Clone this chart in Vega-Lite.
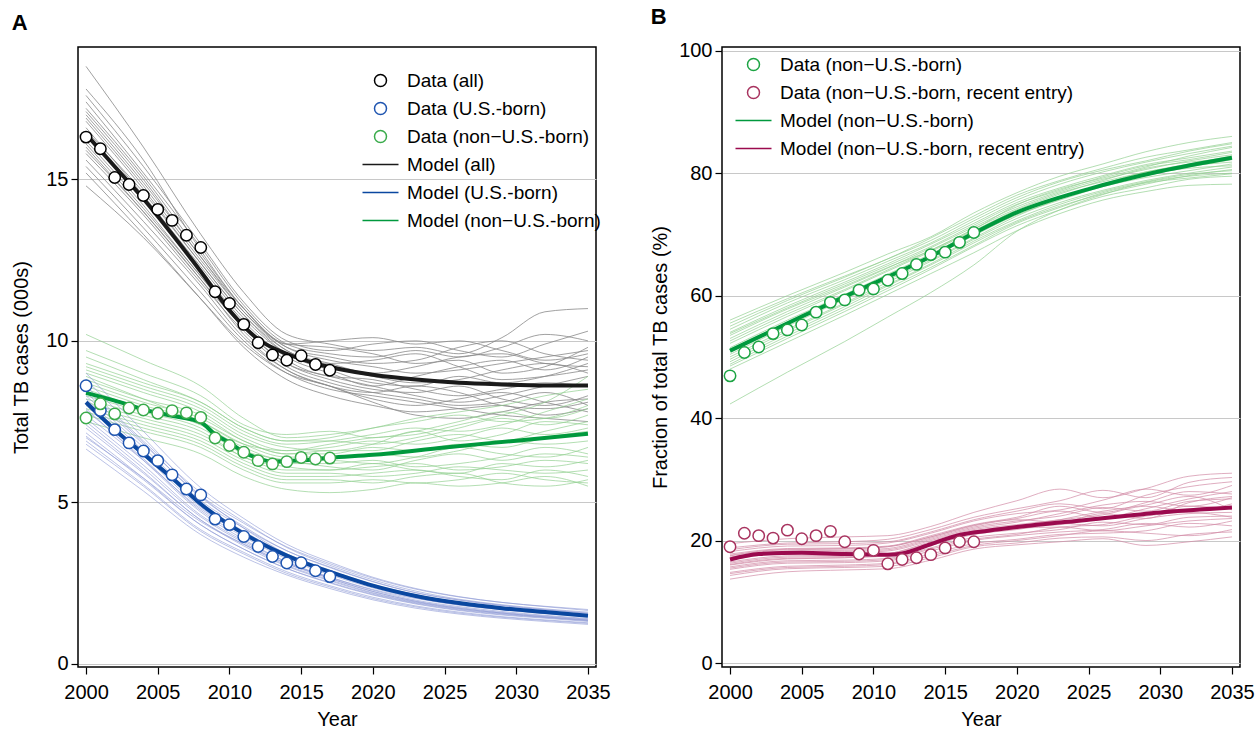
{
"$schema": "https://vega.github.io/schema/vega-lite/v6.json",
"background": "white",
"padding": {"left": 11, "top": 4, "right": 4, "bottom": 0},
"spacing": 38,
"config": {
 "font": "Liberation Sans",
 "view": {"stroke": "#000000", "strokeWidth": 1.5},
 "axis": {"labelFont": "Liberation Sans", "labelFontSize": 20, "labelColor": "#000", "titleFont": "Liberation Sans", "titleFontSize": 20, "titleFontWeight": "normal", "titleColor": "#000", "domain": false, "tickColor": "#000", "tickSize": 7, "tickWidth": 1.2, "gridColor": "#c8c8c8", "gridWidth": 1, "labelPadding": 3},
 "title": {"font": "Liberation Sans", "fontSize": 22, "fontWeight": "bold", "anchor": "start", "frame": "bounds", "color": "#000", "offset": 12},
 "legend": {"labelFont": "Liberation Sans", "labelFontSize": 19, "labelColor": "#000", "labelLimit": 0, "symbolSize": 144, "symbolStrokeWidth": 1.5, "labelOffset": 17, "rowPadding": 8, "padding": 0}
},
"resolve": {"scale": {"stroke": "independent", "shape": "independent"}},
"datasets": {
 "simA": [
  {"g":"all","year":2000,"s1":18.5,"s2":17.6,"s3":17.2,"s4":17.0,"s5":16.8,"s6":16.6,"s7":16.4,"s8":16.2,"s9":16.0,"s10":15.8,"s11":15.6,"s12":15.4,"s13":15.2,"s14":14.8,"s15":17.8,"s16":17.4,"s17":16.9,"s18":16.5,"s19":16.1,"s20":15.9,"s21":17.1},
  {"g":"all","year":2004,"s1":16.0,"s2":15.4,"s3":15.1,"s4":14.9,"s5":14.7,"s6":14.5,"s7":14.4,"s8":14.2,"s9":14.0,"s10":13.9,"s11":13.7,"s12":13.5,"s13":13.3,"s14":13.2,"s15":15.6,"s16":15.2,"s17":14.8,"s18":14.6,"s19":14.1,"s20":14.0,"s21":15.0},
  {"g":"all","year":2008,"s1":13.3,"s2":13.0,"s3":12.7,"s4":12.6,"s5":12.4,"s6":12.3,"s7":12.2,"s8":12.0,"s9":11.9,"s10":11.8,"s11":11.7,"s12":11.5,"s13":11.3,"s14":11.3,"s15":12.8,"s16":12.9,"s17":12.5,"s18":12.4,"s19":12.0,"s20":11.9,"s21":12.6},
  {"g":"all","year":2011,"s1":11.5,"s2":11.2,"s3":11.0,"s4":10.9,"s5":10.8,"s6":10.7,"s7":10.6,"s8":10.5,"s9":10.4,"s10":10.3,"s11":10.1,"s12":10.0,"s13":9.8,"s14":9.9,"s15":11.0,"s16":11.1,"s17":10.9,"s18":10.8,"s19":10.4,"s20":10.2,"s21":11.0},
  {"g":"all","year":2014,"s1":10.2,"s2":10.0,"s3":9.8,"s4":9.8,"s5":9.7,"s6":9.6,"s7":9.5,"s8":9.4,"s9":9.3,"s10":9.2,"s11":9.1,"s12":9.0,"s13":8.8,"s14":9.0,"s15":9.9,"s16":9.9,"s17":9.7,"s18":9.6,"s19":9.3,"s20":9.1,"s21":9.9},
  {"g":"all","year":2017,"s1":9.9,"s2":9.7,"s3":9.5,"s4":9.4,"s5":9.3,"s6":9.2,"s7":9.0,"s8":8.9,"s9":8.8,"s10":8.7,"s11":8.6,"s12":8.5,"s13":8.3,"s14":8.6,"s15":10.0,"s16":9.6,"s17":9.3,"s18":9.1,"s19":8.9,"s20":8.6,"s21":9.8},
  {"g":"all","year":2020,"s1":9.7,"s2":9.9,"s3":9.3,"s4":9.2,"s5":9.4,"s6":8.9,"s7":8.6,"s8":8.8,"s9":8.5,"s10":8.4,"s11":8.2,"s12":8.3,"s13":8.0,"s14":8.1,"s15":10.1,"s16":9.5,"s17":9.0,"s18":8.7,"s19":8.6,"s20":8.4,"s21":9.6},
  {"g":"all","year":2023,"s1":9.8,"s2":10.0,"s3":9.4,"s4":9.0,"s5":9.6,"s6":8.7,"s7":8.9,"s8":8.5,"s9":8.4,"s10":8.2,"s11":8.0,"s12":8.1,"s13":7.8,"s14":7.7,"s15":9.9,"s16":9.7,"s17":9.2,"s18":8.6,"s19":8.3,"s20":8.6,"s21":9.3},
  {"g":"all","year":2026,"s1":9.6,"s2":9.7,"s3":9.8,"s4":9.1,"s5":9.2,"s6":8.8,"s7":9.2,"s8":8.3,"s9":8.6,"s10":8.0,"s11":8.2,"s12":7.9,"s13":7.9,"s14":7.6,"s15":10.0,"s16":9.5,"s17":9.5,"s18":8.9,"s19":8.1,"s20":8.4,"s21":9.4},
  {"g":"all","year":2029,"s1":10.1,"s2":9.5,"s3":10.0,"s4":9.3,"s5":8.8,"s6":9.1,"s7":9.4,"s8":8.5,"s9":8.2,"s10":8.1,"s11":8.4,"s12":7.7,"s13":8.0,"s14":7.8,"s15":9.7,"s16":9.8,"s17":9.6,"s18":8.7,"s19":8.3,"s20":8.0,"s21":9.0},
  {"g":"all","year":2032,"s1":10.9,"s2":9.9,"s3":9.6,"s4":9.5,"s5":8.9,"s6":9.3,"s7":9.1,"s8":8.7,"s9":8.0,"s10":8.4,"s11":8.1,"s12":7.6,"s13":7.7,"s14":8.1,"s15":9.4,"s16":10.2,"s17":9.3,"s18":8.9,"s19":8.6,"s20":7.9,"s21":9.2},
  {"g":"all","year":2035,"s1":11.0,"s2":10.3,"s3":9.4,"s4":9.7,"s5":9.1,"s6":9.0,"s7":9.5,"s8":8.6,"s9":8.3,"s10":8.0,"s11":7.8,"s12":7.5,"s13":7.9,"s14":8.2,"s15":9.6,"s16":10.0,"s17":9.2,"s18":9.3,"s19":8.9,"s20":8.1,"s21":9.8},
  {"g":"nus","year":2000,"s1":10.2,"s2":9.7,"s3":9.2,"s4":9.0,"s5":8.8,"s6":8.6,"s7":8.5,"s8":8.3,"s9":8.2,"s10":8.0,"s11":7.9,"s12":7.7,"s13":7.5,"s14":9.5,"s15":8.9,"s16":9.3,"s17":8.7,"s18":8.4,"s19":8.1,"s20":7.8,"s21":9.1},
  {"g":"nus","year":2004,"s1":9.4,"s2":9.0,"s3":8.6,"s4":8.4,"s5":8.2,"s6":8.0,"s7":7.9,"s8":7.8,"s9":7.7,"s10":7.5,"s11":7.4,"s12":7.2,"s13":7.0,"s14":8.8,"s15":8.2,"s16":8.7,"s17":8.1,"s18":7.9,"s19":7.6,"s20":7.3,"s21":8.5},
  {"g":"nus","year":2008,"s1":8.6,"s2":8.3,"s3":8.0,"s4":7.8,"s5":7.7,"s6":7.5,"s7":7.4,"s8":7.3,"s9":7.2,"s10":7.0,"s11":6.9,"s12":6.7,"s13":6.5,"s14":8.1,"s15":7.5,"s16":8.1,"s17":7.6,"s18":7.4,"s19":7.1,"s20":6.8,"s21":7.9},
  {"g":"nus","year":2011,"s1":7.6,"s2":7.4,"s3":7.2,"s4":7.0,"s5":6.9,"s6":6.8,"s7":6.7,"s8":6.5,"s9":6.4,"s10":6.3,"s11":6.2,"s12":6.0,"s13":5.8,"s14":7.3,"s15":6.8,"s16":7.3,"s17":6.9,"s18":6.6,"s19":6.4,"s20":6.1,"s21":7.1},
  {"g":"nus","year":2014,"s1":7.0,"s2":7.1,"s3":6.8,"s4":6.6,"s5":6.5,"s6":6.4,"s7":6.3,"s8":6.2,"s9":6.1,"s10":5.9,"s11":5.8,"s12":5.6,"s13":5.4,"s14":6.9,"s15":6.6,"s16":6.9,"s17":6.5,"s18":6.3,"s19":6.0,"s20":5.7,"s21":6.7},
  {"g":"nus","year":2017,"s1":7.1,"s2":7.2,"s3":6.9,"s4":6.7,"s5":6.6,"s6":6.4,"s7":6.3,"s8":6.2,"s9":6.0,"s10":5.9,"s11":5.8,"s12":5.6,"s13":5.3,"s14":7.0,"s15":6.8,"s16":6.9,"s17":6.5,"s18":6.1,"s19":6.0,"s20":5.7,"s21":6.6},
  {"g":"nus","year":2020,"s1":7.3,"s2":7.0,"s3":7.1,"s4":6.9,"s5":6.6,"s6":6.5,"s7":6.2,"s8":6.3,"s9":6.1,"s10":5.8,"s11":5.9,"s12":5.7,"s13":5.4,"s14":7.3,"s15":7.0,"s16":6.8,"s17":6.7,"s18":6.0,"s19":6.2,"s20":5.6,"s21":6.8},
  {"g":"nus","year":2023,"s1":7.6,"s2":7.2,"s3":7.3,"s4":6.8,"s5":6.9,"s6":6.4,"s7":6.4,"s8":6.1,"s9":6.2,"s10":5.9,"s11":6.0,"s12":5.6,"s13":5.6,"s14":7.5,"s15":7.1,"s16":7.0,"s17":6.6,"s18":6.3,"s19":6.0,"s20":5.8,"s21":7.2},
  {"g":"nus","year":2026,"s1":7.8,"s2":7.5,"s3":7.2,"s4":7.0,"s5":7.1,"s6":6.6,"s7":6.7,"s8":6.2,"s9":6.0,"s10":6.1,"s11":5.8,"s12":5.7,"s13":5.5,"s14":7.7,"s15":7.4,"s16":7.3,"s17":6.8,"s18":6.5,"s19":5.9,"s20":5.9,"s21":6.9},
  {"g":"nus","year":2029,"s1":8.0,"s2":7.8,"s3":7.4,"s4":7.3,"s5":6.9,"s6":6.9,"s7":6.5,"s8":6.4,"s9":6.1,"s10":6.0,"s11":5.7,"s12":5.9,"s13":5.6,"s14":7.5,"s15":7.7,"s16":7.6,"s17":6.7,"s18":6.3,"s19":6.2,"s20":5.6,"s21":7.1},
  {"g":"nus","year":2032,"s1":8.3,"s2":7.6,"s3":7.8,"s4":7.1,"s5":7.2,"s6":6.8,"s7":6.4,"s8":6.7,"s9":6.3,"s10":5.9,"s11":6.0,"s12":5.7,"s13":5.8,"s14":7.6,"s15":8.1,"s16":7.4,"s17":7.0,"s18":6.5,"s19":6.1,"s20":5.5,"s21":7.5},
  {"g":"nus","year":2035,"s1":8.5,"s2":7.9,"s3":8.2,"s4":7.3,"s5":7.5,"s6":6.9,"s7":6.7,"s8":6.5,"s9":6.2,"s10":6.0,"s11":5.8,"s12":5.6,"s13":5.5,"s14":8.0,"s15":8.9,"s16":7.7,"s17":7.2,"s18":6.4,"s19":6.3,"s20":5.7,"s21":7.4},
  {"g":"us","year":2000,"s1":9.0,"s2":8.5,"s3":8.2,"s4":7.85,"s5":7.6,"s6":7.4,"s7":7.15,"s8":6.9,"s9":6.65,"s10":8.8,"s11":7.0,"s12":7.9,"s13":8.4,"s14":7.3,"s15":7.7,"s16":8.6,"s17":8.0,"s18":7.5,"s19":7.05,"s20":6.8,"s21":8.3},
  {"g":"us","year":2004,"s1":7.2,"s2":6.85,"s3":6.6,"s4":6.35,"s5":6.15,"s6":5.95,"s7":5.75,"s8":5.55,"s9":5.35,"s10":7.0,"s11":5.75,"s12":6.3,"s13":6.8,"s14":5.9,"s15":6.3,"s16":6.9,"s17":6.45,"s18":6.05,"s19":5.7,"s20":5.5,"s21":6.7},
  {"g":"us","year":2008,"s1":5.45,"s2":5.15,"s3":4.95,"s4":4.75,"s5":4.6,"s6":4.45,"s7":4.3,"s8":4.15,"s9":4.0,"s10":5.2,"s11":4.4,"s12":4.7,"s13":5.2,"s14":4.45,"s15":4.8,"s16":5.3,"s17":4.85,"s18":4.55,"s19":4.3,"s20":4.1,"s21":5.05},
  {"g":"us","year":2011,"s1":4.5,"s2":4.25,"s3":4.1,"s4":3.93,"s5":3.8,"s6":3.7,"s7":3.55,"s8":3.45,"s9":3.3,"s10":4.2,"s11":3.7,"s12":3.85,"s13":4.35,"s14":3.65,"s15":4.0,"s16":4.4,"s17":4.0,"s18":3.75,"s19":3.55,"s20":3.4,"s21":4.2},
  {"g":"us","year":2014,"s1":3.7,"s2":3.5,"s3":3.4,"s4":3.25,"s5":3.15,"s6":3.05,"s7":2.95,"s8":2.85,"s9":2.75,"s10":3.4,"s11":3.1,"s12":3.15,"s13":3.62,"s14":3.02,"s15":3.33,"s16":3.6,"s17":3.3,"s18":3.1,"s19":2.95,"s20":2.8,"s21":3.5},
  {"g":"us","year":2017,"s1":3.15,"s2":3.0,"s3":2.9,"s4":2.76,"s5":2.68,"s6":2.6,"s7":2.5,"s8":2.42,"s9":2.33,"s10":2.85,"s11":2.68,"s12":2.65,"s13":3.1,"s14":2.57,"s15":2.85,"s16":3.05,"s17":2.8,"s18":2.64,"s19":2.52,"s20":2.38,"s21":2.98},
  {"g":"us","year":2020,"s1":2.68,"s2":2.55,"s3":2.46,"s4":2.35,"s5":2.28,"s6":2.2,"s7":2.13,"s8":2.06,"s9":1.98,"s10":2.4,"s11":2.3,"s12":2.24,"s13":2.65,"s14":2.18,"s15":2.43,"s16":2.6,"s17":2.39,"s18":2.24,"s19":2.15,"s20":2.02,"s21":2.54},
  {"g":"us","year":2023,"s1":2.33,"s2":2.2,"s3":2.14,"s4":2.04,"s5":1.97,"s6":1.91,"s7":1.85,"s8":1.79,"s9":1.72,"s10":2.07,"s11":2.02,"s12":1.93,"s13":2.31,"s14":1.89,"s15":2.12,"s16":2.25,"s17":2.07,"s18":1.94,"s19":1.87,"s20":1.76,"s21":2.2},
  {"g":"us","year":2026,"s1":2.08,"s2":1.98,"s3":1.91,"s4":1.82,"s5":1.77,"s6":1.71,"s7":1.65,"s8":1.6,"s9":1.54,"s10":1.85,"s11":1.82,"s12":1.72,"s13":2.07,"s14":1.69,"s15":1.9,"s16":2.0,"s17":1.85,"s18":1.74,"s19":1.67,"s20":1.57,"s21":1.97},
  {"g":"us","year":2029,"s1":1.9,"s2":1.81,"s3":1.75,"s4":1.67,"s5":1.62,"s6":1.57,"s7":1.51,"s8":1.46,"s9":1.41,"s10":1.7,"s11":1.68,"s12":1.57,"s13":1.9,"s14":1.55,"s15":1.74,"s16":1.83,"s17":1.69,"s18":1.59,"s19":1.53,"s20":1.44,"s21":1.8},
  {"g":"us","year":2032,"s1":1.77,"s2":1.68,"s3":1.63,"s4":1.55,"s5":1.5,"s6":1.46,"s7":1.41,"s8":1.36,"s9":1.31,"s10":1.58,"s11":1.57,"s12":1.45,"s13":1.78,"s14":1.44,"s15":1.62,"s16":1.7,"s17":1.57,"s18":1.48,"s19":1.43,"s20":1.34,"s21":1.67},
  {"g":"us","year":2035,"s1":1.65,"s2":1.57,"s3":1.52,"s4":1.45,"s5":1.4,"s6":1.36,"s7":1.31,"s8":1.27,"s9":1.22,"s10":1.48,"s11":1.48,"s12":1.35,"s13":1.68,"s14":1.34,"s15":1.52,"s16":1.6,"s17":1.47,"s18":1.38,"s19":1.33,"s20":1.25,"s21":1.56}
 ],
 "simB": [
  {"g":"fn","year":2000,"s1":42.3,"s2":56.0,"s3":55.0,"s4":54.0,"s5":53.0,"s6":52.2,"s7":51.5,"s8":50.8,"s9":50.0,"s10":49.2,"s11":48.5,"s12":48.0,"s13":55.5,"s14":53.5,"s15":50.4,"s16":54.5,"s17":52.6,"s18":51.2,"s19":49.6,"s20":48.8,"s21":53.8},
  {"g":"fn","year":2004,"s1":47.5,"s2":60.0,"s3":59.2,"s4":58.3,"s5":57.4,"s6":56.6,"s7":56.0,"s8":55.3,"s9":54.5,"s10":53.8,"s11":53.0,"s12":52.4,"s13":59.5,"s14":57.8,"s15":55.0,"s16":58.8,"s17":57.0,"s18":55.6,"s19":54.2,"s20":53.4,"s21":58.0},
  {"g":"fn","year":2008,"s1":52.5,"s2":63.8,"s3":63.0,"s4":62.2,"s5":61.4,"s6":60.8,"s7":60.2,"s8":59.6,"s9":58.8,"s10":58.2,"s11":57.4,"s12":56.8,"s13":63.2,"s14":61.6,"s15":59.4,"s16":62.6,"s17":61.0,"s18":59.9,"s19":58.6,"s20":57.8,"s21":61.9},
  {"g":"fn","year":2011,"s1":56.5,"s2":66.8,"s3":66.0,"s4":65.2,"s5":64.5,"s6":64.0,"s7":63.5,"s8":62.8,"s9":62.2,"s10":61.6,"s11":60.8,"s12":60.2,"s13":66.0,"s14":64.6,"s15":62.6,"s16":65.6,"s17":64.2,"s18":63.0,"s19":61.8,"s20":61.2,"s21":64.9},
  {"g":"fn","year":2014,"s1":60.5,"s2":69.6,"s3":69.0,"s4":68.4,"s5":67.8,"s6":67.2,"s7":66.8,"s8":66.2,"s9":65.6,"s10":65.0,"s11":64.3,"s12":63.6,"s13":69.4,"s14":67.4,"s15":65.8,"s16":68.6,"s17":67.4,"s18":66.4,"s19":65.2,"s20":64.6,"s21":68.0},
  {"g":"fn","year":2017,"s1":65.0,"s2":73.5,"s3":72.6,"s4":71.8,"s5":71.2,"s6":70.6,"s7":70.4,"s8":69.8,"s9":69.2,"s10":68.6,"s11":68.0,"s12":67.0,"s13":73.0,"s14":70.8,"s15":69.4,"s16":72.2,"s17":70.9,"s18":70.0,"s19":68.9,"s20":68.2,"s21":71.5},
  {"g":"fn","year":2020,"s1":70.5,"s2":76.8,"s3":76.0,"s4":75.2,"s5":74.5,"s6":74.0,"s7":73.6,"s8":73.2,"s9":72.6,"s10":72.0,"s11":71.4,"s12":70.6,"s13":76.4,"s14":74.8,"s15":73.0,"s16":75.6,"s17":74.2,"s18":73.4,"s19":72.2,"s20":71.8,"s21":74.9},
  {"g":"fn","year":2023,"s1":74.0,"s2":79.5,"s3":78.6,"s4":77.6,"s5":77.0,"s6":76.6,"s7":76.0,"s8":75.6,"s9":75.2,"s10":74.6,"s11":74.0,"s12":73.4,"s13":78.8,"s14":77.4,"s15":75.8,"s16":78.2,"s17":76.8,"s18":75.9,"s19":74.9,"s20":74.4,"s21":77.2},
  {"g":"fn","year":2026,"s1":76.5,"s2":81.5,"s3":80.5,"s4":79.6,"s5":79.0,"s6":78.8,"s7":78.0,"s8":77.8,"s9":77.2,"s10":76.6,"s11":76.2,"s12":75.6,"s13":80.8,"s14":79.2,"s15":78.2,"s16":80.2,"s17":78.6,"s18":77.9,"s19":77.0,"s20":76.8,"s21":79.4},
  {"g":"fn","year":2029,"s1":78.5,"s2":83.5,"s3":82.0,"s4":81.4,"s5":80.6,"s6":80.8,"s7":79.6,"s8":79.3,"s9":78.8,"s10":78.2,"s11":77.6,"s12":77.0,"s13":82.6,"s14":81.0,"s15":80.2,"s16":81.8,"s17":80.2,"s18":79.8,"s19":78.6,"s20":78.4,"s21":81.2},
  {"g":"fn","year":2032,"s1":79.5,"s2":85.0,"s3":83.6,"s4":82.5,"s5":82.0,"s6":81.8,"s7":81.0,"s8":80.4,"s9":80.0,"s10":79.6,"s11":79.0,"s12":78.0,"s13":83.8,"s14":82.8,"s15":81.2,"s16":83.2,"s17":81.5,"s18":80.8,"s19":79.8,"s20":79.2,"s21":82.2},
  {"g":"fn","year":2035,"s1":80.0,"s2":86.0,"s3":84.8,"s4":83.6,"s5":83.0,"s6":82.4,"s7":82.2,"s8":81.5,"s9":81.0,"s10":80.6,"s11":79.5,"s12":78.2,"s13":85.0,"s14":84.2,"s15":81.8,"s16":84.4,"s17":82.8,"s18":81.2,"s19":80.4,"s20":79.9,"s21":83.4},
  {"g":"re","year":2000,"s1":19.5,"s2":18.8,"s3":18.2,"s4":17.8,"s5":17.3,"s6":16.9,"s7":16.5,"s8":16.1,"s9":15.7,"s10":15.3,"s11":14.8,"s12":14.3,"s13":13.7,"s14":17.5,"s15":16.0,"s16":18.5,"s17":17.0,"s18":16.3,"s19":15.5,"s20":14.6,"s21":17.6},
  {"g":"re","year":2004,"s1":20.3,"s2":19.6,"s3":19.1,"s4":18.7,"s5":18.3,"s6":17.9,"s7":17.5,"s8":17.1,"s9":16.7,"s10":16.3,"s11":15.8,"s12":15.4,"s13":14.9,"s14":18.5,"s15":17.0,"s16":19.4,"s17":18.0,"s18":17.3,"s19":16.5,"s20":15.6,"s21":18.6},
  {"g":"re","year":2008,"s1":20.6,"s2":19.8,"s3":19.2,"s4":18.8,"s5":18.4,"s6":18.0,"s7":17.6,"s8":17.2,"s9":16.8,"s10":16.4,"s11":16.0,"s12":15.6,"s13":15.2,"s14":18.6,"s15":17.2,"s16":19.5,"s17":18.2,"s18":17.4,"s19":16.6,"s20":15.8,"s21":18.7},
  {"g":"re","year":2011,"s1":20.8,"s2":20.2,"s3":19.6,"s4":19.1,"s5":18.7,"s6":18.3,"s7":17.9,"s8":17.5,"s9":17.1,"s10":16.7,"s11":16.3,"s12":15.8,"s13":15.4,"s14":19.0,"s15":17.8,"s16":19.8,"s17":18.5,"s18":17.7,"s19":16.9,"s20":16.1,"s21":19.0},
  {"g":"re","year":2014,"s1":22.3,"s2":21.8,"s3":21.2,"s4":20.8,"s5":20.4,"s6":20.0,"s7":19.6,"s8":19.2,"s9":18.8,"s10":18.3,"s11":17.8,"s12":17.2,"s13":16.8,"s14":20.6,"s15":19.8,"s16":21.4,"s17":20.2,"s18":19.4,"s19":18.6,"s20":17.5,"s21":20.6},
  {"g":"re","year":2017,"s1":24.6,"s2":23.8,"s3":23.2,"s4":22.6,"s5":22.2,"s6":21.8,"s7":21.4,"s8":21.0,"s9":20.5,"s10":20.0,"s11":19.5,"s12":19.0,"s13":18.6,"s14":22.4,"s15":21.6,"s16":23.4,"s17":22.0,"s18":21.2,"s19":20.2,"s20":19.2,"s21":22.5},
  {"g":"re","year":2020,"s1":26.5,"s2":25.2,"s3":24.4,"s4":23.8,"s5":23.2,"s6":22.6,"s7":22.2,"s8":21.8,"s9":21.2,"s10":20.8,"s11":20.2,"s12":19.6,"s13":19.3,"s14":23.6,"s15":22.4,"s16":24.8,"s17":23.0,"s18":22.0,"s19":21.0,"s20":20.0,"s21":23.4},
  {"g":"re","year":2023,"s1":28.4,"s2":26.5,"s3":25.0,"s4":25.6,"s5":24.0,"s6":23.4,"s7":22.6,"s8":22.8,"s9":21.8,"s10":21.4,"s11":21.0,"s12":20.4,"s13":19.8,"s14":24.8,"s15":23.4,"s16":26.0,"s17":24.4,"s18":22.2,"s19":22.2,"s20":20.8,"s21":23.0},
  {"g":"re","year":2026,"s1":27.0,"s2":28.2,"s3":26.6,"s4":24.6,"s5":25.4,"s6":24.2,"s7":23.6,"s8":22.4,"s9":23.0,"s10":21.8,"s11":21.2,"s12":20.6,"s13":20.3,"s14":23.8,"s15":24.8,"s16":25.2,"s17":25.8,"s18":21.6,"s19":22.6,"s20":21.6,"s21":24.4},
  {"g":"re","year":2029,"s1":28.5,"s2":27.0,"s3":28.4,"s4":26.2,"s5":24.8,"s6":25.6,"s7":24.2,"s8":23.6,"s9":22.6,"s10":22.8,"s11":21.6,"s12":20.0,"s13":19.2,"s14":25.2,"s15":25.8,"s16":27.4,"s17":26.4,"s18":22.4,"s19":24.0,"s20":21.2,"s21":23.6},
  {"g":"re","year":2032,"s1":30.5,"s2":29.5,"s3":27.4,"s4":28.0,"s5":26.4,"s6":24.8,"s7":25.6,"s8":24.4,"s9":23.8,"s10":22.2,"s11":22.8,"s12":21.0,"s13":19.8,"s14":26.8,"s15":27.2,"s16":28.8,"s17":25.6,"s18":23.2,"s19":24.6,"s20":20.8,"s21":26.2},
  {"g":"re","year":2035,"s1":31.0,"s2":30.3,"s3":29.0,"s4":27.6,"s5":26.8,"s6":26.0,"s7":25.2,"s8":24.6,"s9":24.0,"s10":23.2,"s11":22.4,"s12":21.4,"s13":20.6,"s14":28.0,"s15":25.0,"s16":29.6,"s17":27.0,"s18":23.6,"s19":23.8,"s20":21.8,"s21":27.2}
 ],
 "medA": [
  {"s":"Model (all)","year":2000,"v":16.4},{"s":"Model (all)","year":2002,"v":15.4},{"s":"Model (all)","year":2004,"v":14.4},{"s":"Model (all)","year":2006,"v":13.3},{"s":"Model (all)","year":2008,"v":12.15},{"s":"Model (all)","year":2010,"v":10.95},{"s":"Model (all)","year":2012,"v":10.05},{"s":"Model (all)","year":2014,"v":9.6},{"s":"Model (all)","year":2016,"v":9.3},{"s":"Model (all)","year":2018,"v":9.1},{"s":"Model (all)","year":2020,"v":8.95},{"s":"Model (all)","year":2023,"v":8.8},{"s":"Model (all)","year":2026,"v":8.7},{"s":"Model (all)","year":2029,"v":8.65},{"s":"Model (all)","year":2032,"v":8.62},{"s":"Model (all)","year":2035,"v":8.62},
  {"s":"Model (U.S.-born)","year":2000,"v":8.1},{"s":"Model (U.S.-born)","year":2002,"v":7.25},{"s":"Model (U.S.-born)","year":2004,"v":6.5},{"s":"Model (U.S.-born)","year":2006,"v":5.75},{"s":"Model (U.S.-born)","year":2008,"v":4.95},{"s":"Model (U.S.-born)","year":2010,"v":4.3},{"s":"Model (U.S.-born)","year":2012,"v":3.78},{"s":"Model (U.S.-born)","year":2014,"v":3.35},{"s":"Model (U.S.-born)","year":2016,"v":3.0},{"s":"Model (U.S.-born)","year":2018,"v":2.7},{"s":"Model (U.S.-born)","year":2020,"v":2.42},{"s":"Model (U.S.-born)","year":2023,"v":2.1},{"s":"Model (U.S.-born)","year":2026,"v":1.88},{"s":"Model (U.S.-born)","year":2029,"v":1.72},{"s":"Model (U.S.-born)","year":2032,"v":1.6},{"s":"Model (U.S.-born)","year":2035,"v":1.49},
  {"s":"Model (non−U.S.-born)","year":2000,"v":8.39},{"s":"Model (non−U.S.-born)","year":2002,"v":8.15},{"s":"Model (non−U.S.-born)","year":2004,"v":7.88},{"s":"Model (non−U.S.-born)","year":2006,"v":7.68},{"s":"Model (non−U.S.-born)","year":2008,"v":7.48},{"s":"Model (non−U.S.-born)","year":2009,"v":7.1},{"s":"Model (non−U.S.-born)","year":2010,"v":6.85},{"s":"Model (non−U.S.-born)","year":2011,"v":6.55},{"s":"Model (non−U.S.-born)","year":2012,"v":6.36},{"s":"Model (non−U.S.-born)","year":2013,"v":6.26},{"s":"Model (non−U.S.-born)","year":2015,"v":6.3},{"s":"Model (non−U.S.-born)","year":2017,"v":6.38},{"s":"Model (non−U.S.-born)","year":2020,"v":6.47},{"s":"Model (non−U.S.-born)","year":2025,"v":6.7},{"s":"Model (non−U.S.-born)","year":2030,"v":6.91},{"s":"Model (non−U.S.-born)","year":2035,"v":7.12}
 ],
 "obsA": [
  {"s":"Data (all)","year":2000,"v":16.31},{"s":"Data (all)","year":2001,"v":15.95},{"s":"Data (all)","year":2002,"v":15.06},{"s":"Data (all)","year":2003,"v":14.84},{"s":"Data (all)","year":2004,"v":14.5},{"s":"Data (all)","year":2005,"v":14.07},{"s":"Data (all)","year":2006,"v":13.73},{"s":"Data (all)","year":2007,"v":13.27},{"s":"Data (all)","year":2008,"v":12.89},{"s":"Data (all)","year":2009,"v":11.52},{"s":"Data (all)","year":2010,"v":11.16},{"s":"Data (all)","year":2011,"v":10.51},{"s":"Data (all)","year":2012,"v":9.94},{"s":"Data (all)","year":2013,"v":9.56},{"s":"Data (all)","year":2014,"v":9.4},{"s":"Data (all)","year":2015,"v":9.54},{"s":"Data (all)","year":2016,"v":9.27},{"s":"Data (all)","year":2017,"v":9.09},
  {"s":"Data (U.S.-born)","year":2000,"v":8.61},{"s":"Data (U.S.-born)","year":2001,"v":7.84},{"s":"Data (U.S.-born)","year":2002,"v":7.25},{"s":"Data (U.S.-born)","year":2003,"v":6.84},{"s":"Data (U.S.-born)","year":2004,"v":6.59},{"s":"Data (U.S.-born)","year":2005,"v":6.29},{"s":"Data (U.S.-born)","year":2006,"v":5.85},{"s":"Data (U.S.-born)","year":2007,"v":5.41},{"s":"Data (U.S.-born)","year":2008,"v":5.23},{"s":"Data (U.S.-born)","year":2009,"v":4.48},{"s":"Data (U.S.-born)","year":2010,"v":4.31},{"s":"Data (U.S.-born)","year":2011,"v":3.94},{"s":"Data (U.S.-born)","year":2012,"v":3.63},{"s":"Data (U.S.-born)","year":2013,"v":3.32},{"s":"Data (U.S.-born)","year":2014,"v":3.12},{"s":"Data (U.S.-born)","year":2015,"v":3.13},{"s":"Data (U.S.-born)","year":2016,"v":2.88},{"s":"Data (U.S.-born)","year":2017,"v":2.7},
  {"s":"Data (non−U.S.-born)","year":2000,"v":7.61},{"s":"Data (non−U.S.-born)","year":2001,"v":8.05},{"s":"Data (non−U.S.-born)","year":2002,"v":7.74},{"s":"Data (non−U.S.-born)","year":2003,"v":7.92},{"s":"Data (non−U.S.-born)","year":2004,"v":7.86},{"s":"Data (non−U.S.-born)","year":2005,"v":7.76},{"s":"Data (non−U.S.-born)","year":2006,"v":7.84},{"s":"Data (non−U.S.-born)","year":2007,"v":7.77},{"s":"Data (non−U.S.-born)","year":2008,"v":7.63},{"s":"Data (non−U.S.-born)","year":2009,"v":6.99},{"s":"Data (non−U.S.-born)","year":2010,"v":6.76},{"s":"Data (non−U.S.-born)","year":2011,"v":6.55},{"s":"Data (non−U.S.-born)","year":2012,"v":6.29},{"s":"Data (non−U.S.-born)","year":2013,"v":6.19},{"s":"Data (non−U.S.-born)","year":2014,"v":6.26},{"s":"Data (non−U.S.-born)","year":2015,"v":6.39},{"s":"Data (non−U.S.-born)","year":2016,"v":6.34},{"s":"Data (non−U.S.-born)","year":2017,"v":6.37}
 ],
 "medB": [
  {"s":"Model (non−U.S.-born)","year":2000,"v":51.0},{"s":"Model (non−U.S.-born)","year":2005,"v":56.6},{"s":"Model (non−U.S.-born)","year":2010,"v":62.0},{"s":"Model (non−U.S.-born)","year":2014,"v":66.4},{"s":"Model (non−U.S.-born)","year":2017,"v":70.2},{"s":"Model (non−U.S.-born)","year":2020,"v":73.6},{"s":"Model (non−U.S.-born)","year":2025,"v":77.4},{"s":"Model (non−U.S.-born)","year":2030,"v":80.3},{"s":"Model (non−U.S.-born)","year":2035,"v":82.5},
  {"s":"Model (non−U.S.-born, recent entry)","year":2000,"v":16.9},{"s":"Model (non−U.S.-born, recent entry)","year":2002,"v":17.8},{"s":"Model (non−U.S.-born, recent entry)","year":2005,"v":18.0},{"s":"Model (non−U.S.-born, recent entry)","year":2008,"v":17.8},{"s":"Model (non−U.S.-born, recent entry)","year":2011,"v":17.7},{"s":"Model (non−U.S.-born, recent entry)","year":2012,"v":17.9},{"s":"Model (non−U.S.-born, recent entry)","year":2014,"v":19.4},{"s":"Model (non−U.S.-born, recent entry)","year":2016,"v":20.9},{"s":"Model (non−U.S.-born, recent entry)","year":2018,"v":21.6},{"s":"Model (non−U.S.-born, recent entry)","year":2020,"v":22.2},{"s":"Model (non−U.S.-born, recent entry)","year":2025,"v":23.4},{"s":"Model (non−U.S.-born, recent entry)","year":2030,"v":24.6},{"s":"Model (non−U.S.-born, recent entry)","year":2035,"v":25.4}
 ],
 "obsB": [
  {"s":"Data (non−U.S.-born)","year":2000,"v":46.9},{"s":"Data (non−U.S.-born)","year":2001,"v":50.7},{"s":"Data (non−U.S.-born)","year":2002,"v":51.6},{"s":"Data (non−U.S.-born)","year":2003,"v":53.8},{"s":"Data (non−U.S.-born)","year":2004,"v":54.4},{"s":"Data (non−U.S.-born)","year":2005,"v":55.2},{"s":"Data (non−U.S.-born)","year":2006,"v":57.3},{"s":"Data (non−U.S.-born)","year":2007,"v":58.9},{"s":"Data (non−U.S.-born)","year":2008,"v":59.3},{"s":"Data (non−U.S.-born)","year":2009,"v":60.9},{"s":"Data (non−U.S.-born)","year":2010,"v":61.1},{"s":"Data (non−U.S.-born)","year":2011,"v":62.5},{"s":"Data (non−U.S.-born)","year":2012,"v":63.6},{"s":"Data (non−U.S.-born)","year":2013,"v":65.1},{"s":"Data (non−U.S.-born)","year":2014,"v":66.7},{"s":"Data (non−U.S.-born)","year":2015,"v":67.1},{"s":"Data (non−U.S.-born)","year":2016,"v":68.7},{"s":"Data (non−U.S.-born)","year":2017,"v":70.3},
  {"s":"Data (non−U.S.-born, recent entry)","year":2000,"v":19.0},{"s":"Data (non−U.S.-born, recent entry)","year":2001,"v":21.2},{"s":"Data (non−U.S.-born, recent entry)","year":2002,"v":20.8},{"s":"Data (non−U.S.-born, recent entry)","year":2003,"v":20.4},{"s":"Data (non−U.S.-born, recent entry)","year":2004,"v":21.7},{"s":"Data (non−U.S.-born, recent entry)","year":2005,"v":20.3},{"s":"Data (non−U.S.-born, recent entry)","year":2006,"v":20.8},{"s":"Data (non−U.S.-born, recent entry)","year":2007,"v":21.5},{"s":"Data (non−U.S.-born, recent entry)","year":2008,"v":19.8},{"s":"Data (non−U.S.-born, recent entry)","year":2009,"v":17.8},{"s":"Data (non−U.S.-born, recent entry)","year":2010,"v":18.4},{"s":"Data (non−U.S.-born, recent entry)","year":2011,"v":16.2},{"s":"Data (non−U.S.-born, recent entry)","year":2012,"v":16.9},{"s":"Data (non−U.S.-born, recent entry)","year":2013,"v":17.2},{"s":"Data (non−U.S.-born, recent entry)","year":2014,"v":17.7},{"s":"Data (non−U.S.-born, recent entry)","year":2015,"v":18.8},{"s":"Data (non−U.S.-born, recent entry)","year":2016,"v":19.8},{"s":"Data (non−U.S.-born, recent entry)","year":2017,"v":19.8}
 ]
},
"hconcat": [
 {
  "width": 518, "height": 620,
  "title": {"text": "A"},
  "encoding": {
   "x": {"field": "year", "type": "quantitative", "scale": {"domain": [1999.44, 2035.56], "nice": false, "zero": false}, "axis": {"values": [2000,2005,2010,2015,2020,2025,2030,2035], "format": "d", "title": "Year", "grid": false, "labelPadding": 8, "titlePadding": 7}},
   "y": {"field": "v", "type": "quantitative", "scale": {"domain": [-0.1, 19.1], "nice": false, "zero": false}, "axis": {"values": [0,5,10,15], "title": "Total TB cases (000s)", "grid": true, "titlePadding": 14}}
  },
  "layer": [
   {"data": {"name": "simA"}, "transform": [{"filter": "datum.g == 'all'"}, {"fold": ["s1","s2","s3","s4","s5","s6","s7","s8","s9","s10","s11","s12","s13","s14","s15","s16","s17","s18","s19","s20","s21"], "as": ["run","v"]}],
    "mark": {"type": "line", "stroke": "#8a8a8a", "strokeWidth": 1, "opacity": 0.8, "interpolate": "monotone"}, "encoding": {"detail": {"field": "run"}}},
   {"data": {"name": "simA"}, "transform": [{"filter": "datum.g == 'nus'"}, {"fold": ["s1","s2","s3","s4","s5","s6","s7","s8","s9","s10","s11","s12","s13","s14","s15","s16","s17","s18","s19","s20","s21"], "as": ["run","v"]}],
    "mark": {"type": "line", "stroke": "#93d092", "strokeWidth": 1, "opacity": 0.7, "interpolate": "monotone"}, "encoding": {"detail": {"field": "run"}}},
   {"data": {"name": "simA"}, "transform": [{"filter": "datum.g == 'us'"}, {"fold": ["s1","s2","s3","s4","s5","s6","s7","s8","s9","s10","s11","s12","s13","s14","s15","s16","s17","s18","s19","s20","s21"], "as": ["run","v"]}],
    "mark": {"type": "line", "stroke": "#8d9ad6", "strokeWidth": 1, "opacity": 0.6, "interpolate": "monotone"}, "encoding": {"detail": {"field": "run"}}},
   {"data": {"name": "medA"}, "mark": {"type": "line", "strokeWidth": 4, "interpolate": "monotone"},
    "encoding": {"stroke": {"field": "s", "type": "nominal", "scale": {"domain": ["Data (all)","Data (U.S.-born)","Data (non−U.S.-born)","Model (all)","Model (U.S.-born)","Model (non−U.S.-born)"], "range": ["#000000","#1f55b0","#3aab4b","#1a1a1a","#0a47a0","#00993d"]},
      "legend": {"orient": "none", "legendX": 293, "legendY": 24, "title": null}}}},
   {"data": {"name": "obsA"}, "mark": {"type": "point", "filled": false, "fill": "white", "fillOpacity": 1, "size": 130, "strokeWidth": 1.5, "opacity": 1},
    "encoding": {
     "stroke": {"field": "s", "type": "nominal", "scale": {"domain": ["Data (all)","Data (U.S.-born)","Data (non−U.S.-born)","Model (all)","Model (U.S.-born)","Model (non−U.S.-born)"], "range": ["#000000","#1f55b0","#3aab4b","#1a1a1a","#0a47a0","#00993d"]},
      "legend": {"orient": "none", "legendX": 293, "legendY": 24, "title": null}},
     "shape": {"field": "s", "type": "nominal", "scale": {"domain": ["Data (all)","Data (U.S.-born)","Data (non−U.S.-born)","Model (all)","Model (U.S.-born)","Model (non−U.S.-born)"], "range": ["circle","circle","circle","M-3,0L3,0","M-3,0L3,0","M-3,0L3,0"]},
      "legend": {"orient": "none", "legendX": 293, "legendY": 24, "title": null}}
    }}
  ]
 },
 {
  "width": 518, "height": 620,
  "title": {"text": "B"},
  "encoding": {
   "x": {"field": "year", "type": "quantitative", "scale": {"domain": [1999.44, 2035.56], "nice": false, "zero": false}, "axis": {"values": [2000,2005,2010,2015,2020,2025,2030,2035], "format": "d", "title": "Year", "grid": false, "labelPadding": 8, "titlePadding": 7}},
   "y": {"field": "v", "type": "quantitative", "scale": {"domain": [-0.65, 100.6], "nice": false, "zero": false}, "axis": {"values": [0,20,40,60,80,100], "title": "Fraction of total TB cases (%)", "grid": true, "titlePadding": 8}}
  },
  "layer": [
   {"data": {"name": "simB"}, "transform": [{"filter": "datum.g == 'fn'"}, {"fold": ["s1","s2","s3","s4","s5","s6","s7","s8","s9","s10","s11","s12","s13","s14","s15","s16","s17","s18","s19","s20","s21"], "as": ["run","v"]}],
    "mark": {"type": "line", "stroke": "#93d092", "strokeWidth": 1, "opacity": 0.7, "interpolate": "monotone"}, "encoding": {"detail": {"field": "run"}}},
   {"data": {"name": "simB"}, "transform": [{"filter": "datum.g == 're'"}, {"fold": ["s1","s2","s3","s4","s5","s6","s7","s8","s9","s10","s11","s12","s13","s14","s15","s16","s17","s18","s19","s20","s21"], "as": ["run","v"]}],
    "mark": {"type": "line", "stroke": "#d18aa5", "strokeWidth": 1, "opacity": 0.7, "interpolate": "monotone"}, "encoding": {"detail": {"field": "run"}}},
   {"data": {"name": "medB"}, "mark": {"type": "line", "strokeWidth": 4, "interpolate": "monotone"},
    "encoding": {"stroke": {"field": "s", "type": "nominal", "scale": {"domain": ["Data (non−U.S.-born)","Data (non−U.S.-born, recent entry)","Model (non−U.S.-born)","Model (non−U.S.-born, recent entry)"], "range": ["#1ca443","#a8335f","#00993d","#9b0a4e"]},
      "legend": {"orient": "none", "legendX": 22, "legendY": 8, "title": null}}}},
   {"data": {"name": "obsB"}, "mark": {"type": "point", "filled": false, "fill": "white", "fillOpacity": 1, "size": 130, "strokeWidth": 1.5, "opacity": 1},
    "encoding": {
     "stroke": {"field": "s", "type": "nominal", "scale": {"domain": ["Data (non−U.S.-born)","Data (non−U.S.-born, recent entry)","Model (non−U.S.-born)","Model (non−U.S.-born, recent entry)"], "range": ["#1ca443","#a8335f","#00993d","#9b0a4e"]},
      "legend": {"orient": "none", "legendX": 22, "legendY": 8, "title": null}},
     "shape": {"field": "s", "type": "nominal", "scale": {"domain": ["Data (non−U.S.-born)","Data (non−U.S.-born, recent entry)","Model (non−U.S.-born)","Model (non−U.S.-born, recent entry)"], "range": ["circle","circle","M-3,0L3,0","M-3,0L3,0"]},
      "legend": {"orient": "none", "legendX": 22, "legendY": 8, "title": null}}
    }}
  ]
 }
]
}
